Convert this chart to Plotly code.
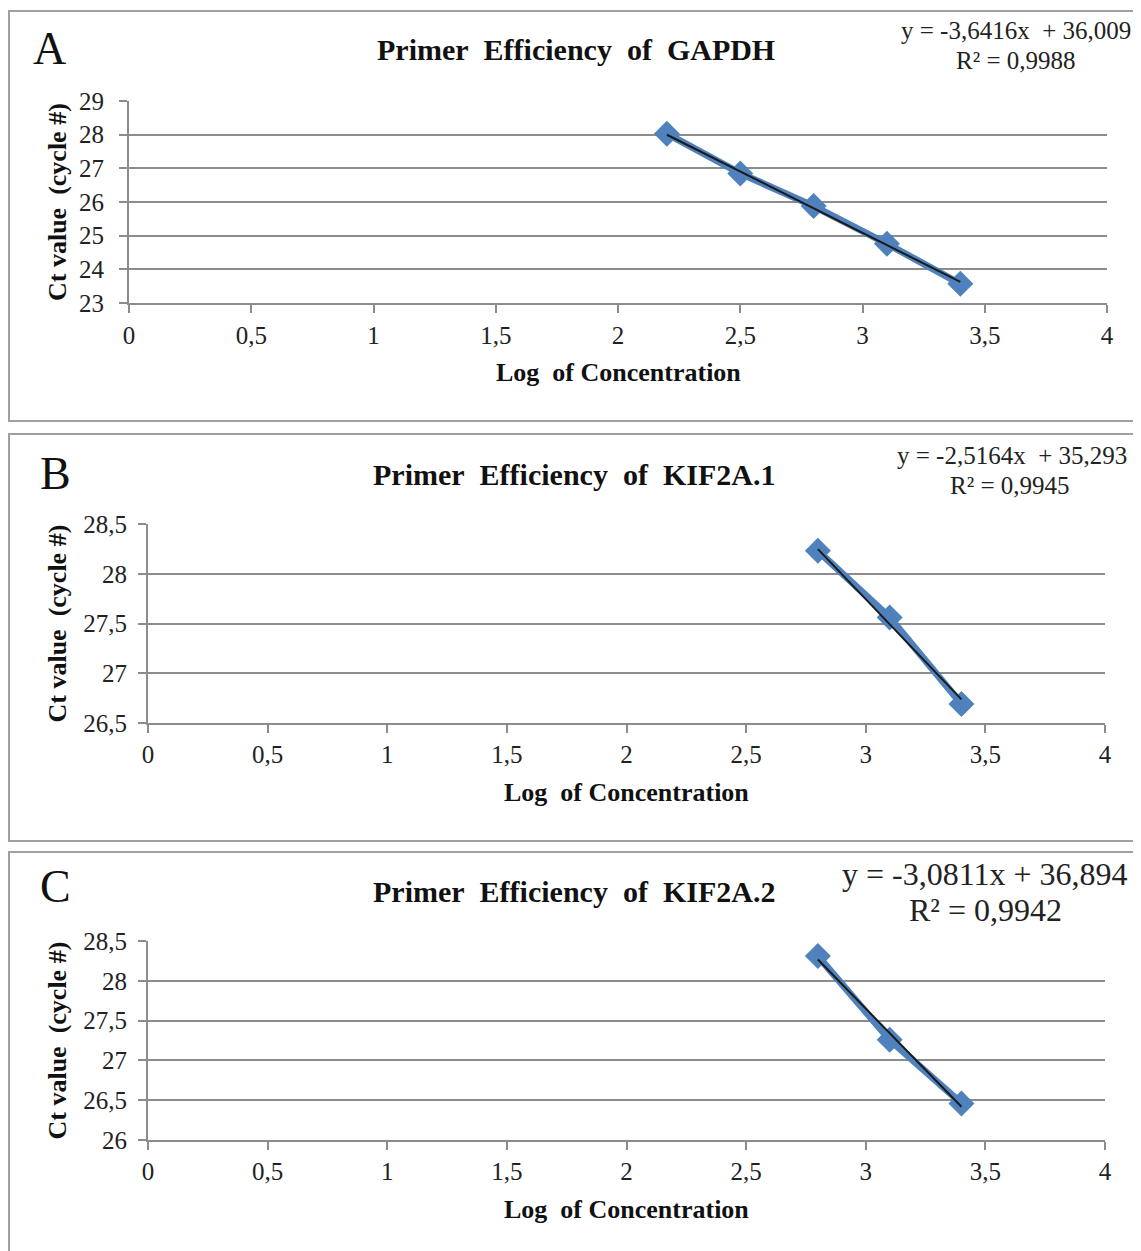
import plotly.graph_objects as go

W, H = 1141, 1251
PAGE_OFF = 8  # the page body has an 8px margin

# -----------------------------------
# Data
# -----------------------------------

gapdh_x = [2.2, 2.5, 2.8, 3.1, 3.4]
gapdh_ct = [28.03, 26.85, 25.88, 24.76, 23.57]
gapdh_fit = (-3.6416, 36.009)

kif1_x = [2.8, 3.1, 3.4]
kif1_ct = [28.23, 27.56, 26.69]
kif1_fit = (-2.5164, 35.293)

kif2_x = [2.8, 3.1, 3.4]
kif2_ct = [28.31, 27.26, 26.46]
kif2_fit = (-3.0811, 36.894)

x_ticks = [0, 0.5, 1, 1.5, 2, 2.5, 3, 3.5, 4]

panels = [
    dict(letter="A", gene="GAPDH", x=gapdh_x, y=gapdh_ct, fit=gapdh_fit,
         eq1="y = -3,6416x\u00a0\u00a0+ 36,009", eq2="R² = 0,9988",
         yr=[23, 29], dy=1,
         box=(9, 11, 1150, 421), plot=(129, 101, 1107, 303),
         letter_xy=(49, 48), title_xy=(576, 49), eq_xy=(1016, 30, 1016, 61),
         eq_size=25, ylab_x=57, tick_off=(1, 10)),
    dict(letter="B", gene="KIF2A.1", x=kif1_x, y=kif1_ct, fit=kif1_fit,
         eq1="y = -2,5164x\u00a0\u00a0+ 35,293", eq2="R² = 0,9945",
         yr=[26.5, 28.5], dy=0.5,
         box=(9, 434, 1137, 841), plot=(148, 524, 1105, 723),
         letter_xy=(55, 473), title_xy=(574, 474), eq_xy=(1012, 455, 1010, 486),
         eq_size=25, ylab_x=57, tick_off=(0, 6)),
    dict(letter="C", gene="KIF2A.2", x=kif2_x, y=kif2_ct, fit=kif2_fit,
         eq1="y = -3,0811x + 36,894", eq2="R² = 0,9942",
         yr=[26, 28.5], dy=0.5,
         box=(9, 852, 1137, 1262), plot=(148, 941, 1105, 1140),
         letter_xy=(55, 886), title_xy=(574, 891), eq_xy=(985, 874, 985, 910),
         eq_size=32, ylab_x=57, tick_off=(0, 6)),
]

SERIF = "Liberation Serif"
GRID = "#8c8c8c"
BLUE = "#4f81bd"

FW, FH = W - PAGE_OFF, H - PAGE_OFF


def px_x(v):
    return (v - PAGE_OFF) / FW


def px_y(v):
    return 1 - (v - PAGE_OFF) / FH


def label(x, y, text, size, color="#111", angle=0):
    return dict(
        x=px_x(x), y=px_y(y), xref="paper", yref="paper",
        xanchor="center", yanchor="middle",
        text=text, showarrow=False, textangle=angle,
        font=dict(family=SERIF, size=size, color=color)
    )


fig = go.Figure()
shapes = []
annotations = []
layout = {}

for i, p in enumerate(panels):

    n = "" if i == 0 else str(i + 1)
    xa, ya = "x" + n, "y" + n
    x0, y0, x1, y1 = p["plot"]

    # Series
    fig.add_trace(go.Scatter(
        x=p["x"], y=p["y"], xaxis=xa, yaxis=ya,
        mode="lines+markers",
        line=dict(color=BLUE, width=7),
        marker=dict(symbol="diamond", size=20, color=BLUE),
        showlegend=False,
        hoverinfo="x+y"
    ))

    # Linear trendline
    slope, icept = p["fit"]
    tx = [p["x"][0], p["x"][-1]]
    fig.add_trace(go.Scatter(
        x=tx, y=[slope * v + icept for v in tx], xaxis=xa, yaxis=ya,
        mode="lines",
        line=dict(color="#1a1a1a", width=2),
        showlegend=False,
        hoverinfo="skip"
    ))

    xoff, yoff = p["tick_off"]
    layout["xaxis" + n] = dict(
        domain=[px_x(x0), px_x(x1)], anchor=ya, automargin=False,
        range=[0, 4], tickvals=x_ticks, showgrid=False, zeroline=False,
        showline=True, linecolor=GRID, linewidth=2,
        ticks="outside", ticklen=8, tickcolor=GRID, tickwidth=2,
        ticklabelstandoff=xoff,
        tickfont=dict(family=SERIF, size=25, color="#222")
    )
    layout["yaxis" + n] = dict(
        domain=[px_y(y1), px_y(y0)], anchor=xa, automargin=False,
        range=p["yr"], dtick=p["dy"], showgrid=True, gridcolor=GRID,
        gridwidth=2, zeroline=False,
        showline=True, linecolor=GRID, linewidth=2,
        ticks="outside", ticklen=8, tickcolor=GRID, tickwidth=2,
        ticklabelstandoff=yoff,
        tickfont=dict(family=SERIF, size=25, color="#222")
    )

    # Panel border
    bx0, by0, bx1, by1 = p["box"]
    shapes.append(dict(
        type="rect", xref="paper", yref="paper",
        x0=px_x(bx0), x1=px_x(bx1), y0=px_y(by1), y1=px_y(by0),
        line=dict(color="#a0a0a0", width=2)
    ))

    lx, ly = p["letter_xy"]
    annotations.append(label(lx, ly, p["letter"], 46))

    tx_, ty_ = p["title_xy"]
    annotations.append(label(
        tx_, ty_,
        "<b>Primer\u00a0\u00a0Efficiency\u00a0\u00a0of\u00a0\u00a0" + p["gene"] + "</b>",
        30
    ))

    ex1, ey1, ex2, ey2 = p["eq_xy"]
    annotations.append(label(ex1, ey1, p["eq1"], p["eq_size"], "#222"))
    annotations.append(label(ex2, ey2, p["eq2"], p["eq_size"], "#222"))

    # Axis titles
    annotations.append(label(
        (x0 + x1) / 2, y1 + 69, "<b>Log\u00a0\u00a0of Concentration</b>", 26
    ))
    annotations.append(label(
        p["ylab_x"], (y0 + y1) / 2, "<b>Ct value\u00a0\u00a0(cycle #)</b>", 26,
        angle=-90
    ))

fig.update_layout(
    width=FW, height=FH,
    margin=dict(l=0, r=0, t=0, b=0, autoexpand=False),
    paper_bgcolor="white", plot_bgcolor="white",
    separators=", ",
    shapes=shapes, annotations=annotations,
    **layout
)

fig.write_html("out.html")
